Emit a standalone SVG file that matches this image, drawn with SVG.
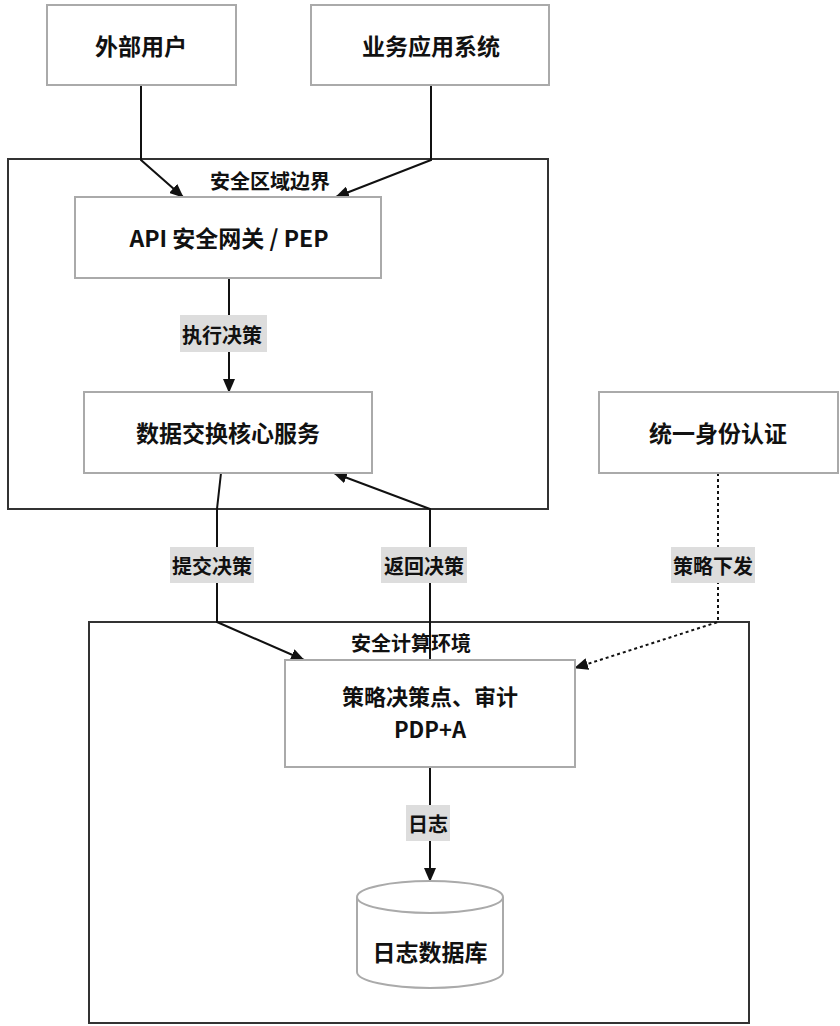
<svg xmlns="http://www.w3.org/2000/svg" width="840" height="1026" viewBox="0 0 840 1026">
<style>
.node{fill:#fff;stroke:#aaa;stroke-width:2}
.zone{fill:none;stroke:#333;stroke-width:2}
.t{font-family:"Noto Sans CJK SC","Liberation Sans",sans-serif;font-weight:bold;fill:#111;text-anchor:middle;dominant-baseline:central}
.big{font-size:23px}
.pdp{font-size:22px}
.lbl{font-size:20px}
.edge{fill:none;stroke:#111;stroke-width:2}
.dash{stroke-dasharray:3 3}
.lbg{fill:#ddd}
</style>
<defs>
<marker id="arr" markerUnits="userSpaceOnUse" markerWidth="14" markerHeight="12" refX="13" refY="6" orient="auto">
<path d="M0,0 L14,6 L0,12 z" fill="#111"/>
</marker>
</defs>
<rect width="840" height="1026" fill="#fff"/>
<g id="zone-boundary">
<rect class="zone" x="8" y="159" width="540" height="350"/>
<text class="t lbl" x="270" y="180">安全区域边界</text>
</g>
<g id="zone-compute">
<rect class="zone" x="89" y="622" width="660" height="401"/>
<text class="t lbl" x="411" y="642">安全计算环境</text>
</g>
<g id="connectors">
<path class="edge" d="M141,85 V160 L183,197" marker-end="url(#arr)"/>
<path class="edge" d="M431,85 V160 L336,197" marker-end="url(#arr)"/>
<path class="edge" d="M229,278 V392" marker-end="url(#arr)"/>
<path class="edge" d="M221,473 L217,509 V622 L304,660" marker-end="url(#arr)"/>
<path class="edge" d="M430,660 V509 L334,473" marker-end="url(#arr)"/>
<path class="edge dash" d="M718,473 V622 L575,668" marker-end="url(#arr)"/>
<path class="edge" d="M430,767 V881" marker-end="url(#arr)"/>
<rect class="lbg" x="180" y="315" width="87" height="37"/>
<text class="t lbl" x="222" y="334">执行决策</text>
<rect class="lbg" x="170" y="547" width="84" height="36"/>
<text class="t lbl" x="212" y="565">提交决策</text>
<rect class="lbg" x="381" y="547" width="86" height="36"/>
<text class="t lbl" x="424" y="565">返回决策</text>
<rect class="lbg" x="671" y="547" width="84" height="36"/>
<text class="t lbl" x="713" y="565">策略下发</text>
<rect class="lbg" x="406" y="805" width="44" height="36"/>
<text class="t lbl" x="428" y="823">日志</text>
</g>
<g id="n-external">
<rect class="node" x="47" y="5" width="189" height="80"/>
<text class="t big" x="141" y="45">外部用户</text>
</g>
<g id="n-business">
<rect class="node" x="311" y="5" width="238" height="80"/>
<text class="t big" x="431" y="45">业务应用系统</text>
</g>
<g id="n-gateway">
<rect class="node" x="75" y="197" width="306" height="81"/>
<text class="t big" x="229" y="237">API 安全网关 / PEP</text>
</g>
<g id="n-core">
<rect class="node" x="84" y="392" width="288" height="81"/>
<text class="t big" x="228" y="432">数据交换核心服务</text>
</g>
<g id="n-identity">
<rect class="node" x="599" y="392" width="239" height="81"/>
<text class="t big" x="718" y="432">统一身份认证</text>
</g>
<g id="n-pdp">
<rect class="node" x="285" y="660" width="290" height="107"/>
<text class="t pdp" x="430" y="695">策略决策点、审计</text>
<text class="t pdp" x="430" y="728">PDP+A</text>
</g>
<g id="n-logdb">
<path class="node" d="M357,897 A73,16 0 0,1 503,897 V972 A73,16 0 0,1 357,972 Z"/>
<path class="node" fill="none" d="M357,897 A73,16 0 0,0 503,897"/>
<text class="t big" x="430" y="951">日志数据库</text>
</g>
</svg>
